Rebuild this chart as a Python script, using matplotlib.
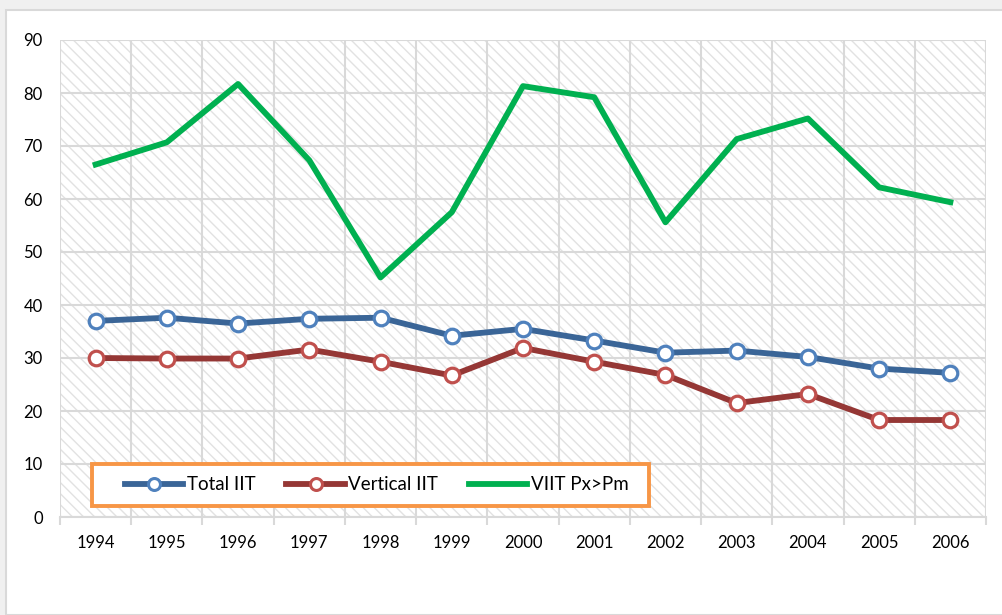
import matplotlib
matplotlib.use("Agg")
import matplotlib.pyplot as plt
from matplotlib.patches import Rectangle
import numpy as np

years = ["1994", "1995", "1996", "1997", "1998", "1999", "2000",
         "2001", "2002", "2003", "2004", "2005", "2006"]
total_iit = [37.0, 37.6, 36.5, 37.4, 37.6, 34.2, 35.5, 33.3, 31.0, 31.4, 30.2, 28.0, 27.2]
vertical_iit = [30.0, 29.9, 29.9, 31.6, 29.3, 26.7, 31.9, 29.3, 26.8, 21.5, 23.2, 18.3, 18.3]
viit_px_pm = [66.5, 70.7, 81.7, 67.3, 45.2, 57.5, 81.3, 79.2, 55.6, 71.3, 75.2, 62.2, 59.4]
y_ticks = [0, 10, 20, 30, 40, 50, 60, 70, 80, 90]

plt.rcParams['font.family'] = ['Lato', 'DejaVu Sans']
plt.rcParams['hatch.linewidth'] = 1.0

W, H = 1003, 615
fig = plt.figure(figsize=(W / 100, H / 100), dpi=100)
fig.patch.set_facecolor('#f0f0f0')
bg = Rectangle((6 / W, 0), 1.0, (H - 10) / H, transform=fig.transFigure,
               facecolor='white', edgecolor='#d9d9d9', linewidth=1.5, zorder=-10)
fig.add_artist(bg)

ax = fig.add_axes([60 / W, (H - 517) / H, 926 / W, 477 / H])
ax.set_zorder(1)
ax.set_facecolor('none')
ax.add_patch(Rectangle((0, 0), 1, 1, transform=ax.transAxes, facecolor='white',
                       edgecolor='#e2e2e2', hatch='\\\\\\', linewidth=0, zorder=0))

x = np.arange(len(years))
ax.plot(x, total_iit, color='#3a6597', linewidth=4.2, marker='o', markersize=10.5,
        markerfacecolor='white', markeredgecolor='#4f81bd', markeredgewidth=2.3,
        label='Total IIT', zorder=4)
ax.plot(x, vertical_iit, color='#953735', linewidth=4.2, marker='o', markersize=10.5,
        markerfacecolor='white', markeredgecolor='#c0504d', markeredgewidth=2.3,
        label='Vertical IIT', zorder=4)
ax.plot(x, viit_px_pm, color='#00b050', linewidth=4.2, label='VIIT Px>Pm', zorder=3)

ax.set_xlim(-0.5, len(years) - 0.5)
ax.set_ylim(0, 90)
ax.set_yticks(y_ticks)
ax.set_xticks(x)
ax.set_xticklabels(years)
ax.set_xticks(np.arange(-0.5, len(years)), minor=True)

ax.tick_params(axis='x', which='major', length=0, pad=13, labelsize=12, colors='black')
ax.tick_params(axis='x', which='minor', length=6, width=1.5, color='#d9d9d9')
ax.tick_params(axis='y', length=0, pad=12.5, labelsize=12)

ax.grid(True, axis='y', color='#d9d9d9', linewidth=1.5, zorder=1)
ax.grid(True, axis='x', which='minor', color='#d9d9d9', linewidth=1.5, zorder=1)
ax.set_axisbelow(True)
for s in ['top', 'right', 'left']:
    ax.spines[s].set_visible(False)
ax.spines['bottom'].set_color('#d9d9d9')
ax.spines['bottom'].set_linewidth(1.5)

# legend box (orange frame) drawn separately
ax.add_patch(Rectangle(((92 - 60) / 926, 11 / 477), (649 - 92) / 926, 42 / 477,
                       transform=ax.transAxes, facecolor='white', edgecolor='#f79646',
                       linewidth=2.8, zorder=6))
leg = ax.legend(loc='center left', bbox_to_anchor=((125 - 60) / 926, 32 / 477),
                ncol=3, fontsize=13.5, handlelength=3.1, handletextpad=0.2,
                columnspacing=1.65, borderaxespad=0, borderpad=0, frameon=False)
leg.set_zorder(7)
for h in leg.legend_handles:
    h.set_markersize(8.6)
    h.set_markeredgewidth(2.2)

fig.savefig('out.png', dpi=100, facecolor=fig.get_facecolor())
